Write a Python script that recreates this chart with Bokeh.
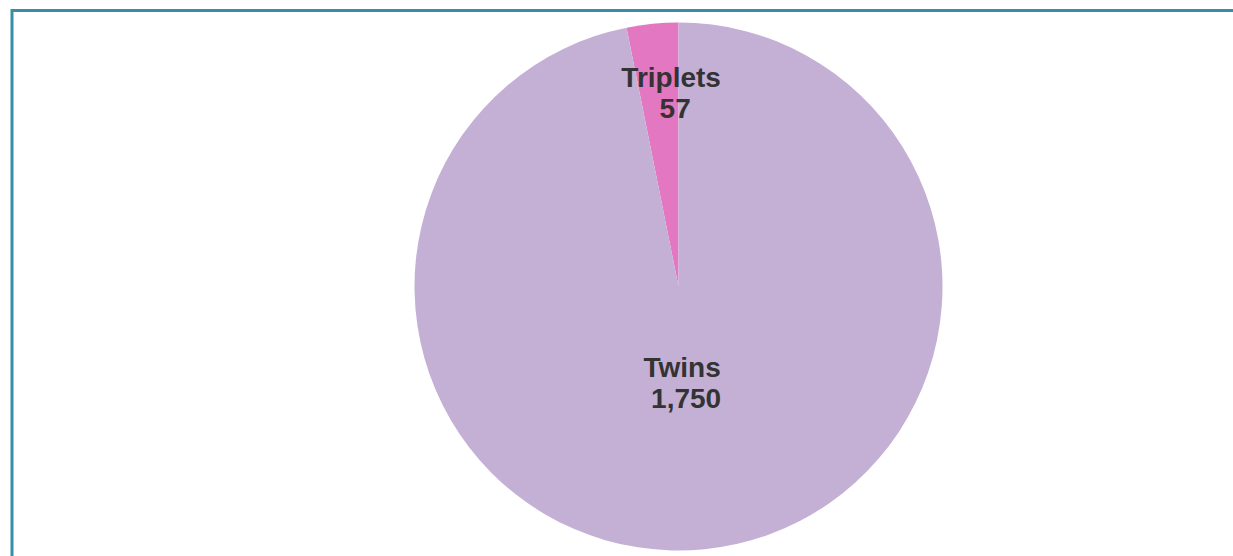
import numpy as np
from bokeh.plotting import figure
from bokeh.models import Range1d, ColumnDataSource
from bokeh.embed import file_html
from bokeh.resources import INLINE
from bokeh.core.properties import value

categories = ["Triplets", "Twins"]
counts = [57, 1750]
colors = ["#e377c2", "#c5b0d5"]

W, H = 1233, 556
cx, cy, R = 678, 270, 264
label_frac = [0.735, 0.364]
label_turn = np.deg2rad(-3.5)

vals = np.array(counts, dtype=float)
ang = vals / vals.sum() * 2 * np.pi
start = np.pi / 2 + np.concatenate([[0], np.cumsum(ang)[:-1]])
end = start + ang
mid = (start + end) / 2 + label_turn
lx = cx + np.array(label_frac) * R * np.cos(mid)
ly = cy + np.array(label_frac) * R * np.sin(mid)

src = ColumnDataSource(dict(
    cat=categories, val=[f"{c:,}" for c in counts], color=colors,
    start=start, end=end, lx=lx, ly=ly,
))

p = figure(width=W, height=H, x_range=Range1d(0, W), y_range=Range1d(0, H),
           output_backend="svg", toolbar_location=None, min_border=0)
p.axis.visible = False
p.grid.visible = False
p.outline_line_color = None
p.background_fill_color = "white"

# panel border (left and top edges)
p.line(x=[11.5, 11.5, W + 20], y=[-20, H - 10, H - 10], line_color="#3a8da6",
       line_width=3, line_join="miter")

p.wedge(x=cx, y=cy, radius=R, start_angle="start", end_angle="end",
        direction="anticlock", fill_color="color", line_color=None, source=src)

common = dict(text_font=value("Liberation Sans"), text_font_style="bold",
              text_font_size="28px", text_color="#333333", text_align="center",
              text_baseline="alphabetic", source=src)
p.text(x="lx", y="ly", text="cat", y_offset=-15, **common)
p.text(x="lx", y="ly", text="val", y_offset=16, x_offset=4, **common)

open("out.html", "w").write(file_html(p, INLINE))
